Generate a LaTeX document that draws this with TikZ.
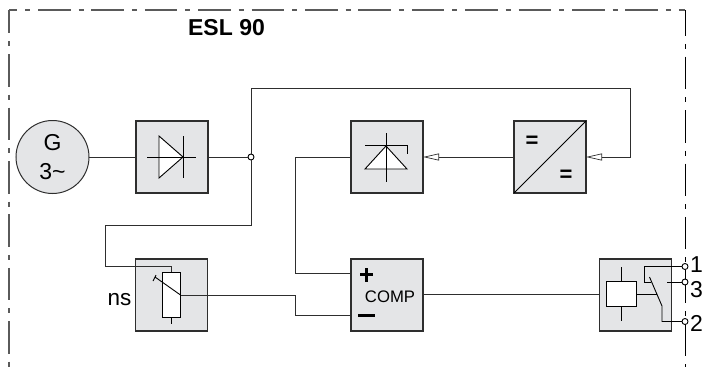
\documentclass[tikz,border=0pt]{standalone}
\usepackage{fontspec}
\setmainfont{Liberation Sans}
\usetikzlibrary{arrows.meta}
\definecolor{blockgray}{HTML}{E4E5E7}
\definecolor{linegray}{HTML}{2E2E2E}
\definecolor{framegray}{HTML}{5A5A5A}
\tikzset{
    blockbox/.style={draw=linegray,line width=1.1pt,fill=blockgray,minimum size=72pt,inner sep=0pt,outer sep=0pt},
    wire/.style={draw=linegray,line width=1pt},
    symbol/.style={draw=black,line width=0.9pt},
    terminal/.style={circle,draw=black,fill=white,line width=0.9pt,minimum size=6pt,inner sep=0pt,outer sep=0pt},
    openarrow/.style={-{Triangle[open,fill=white,length=16pt,width=7pt,line width=0.7pt]}},
    housing/.style={line width=1.1pt,dash pattern=on 32.5pt off 8pt on 5pt off 7.9pt}
}
\begin{document}
\begin{tikzpicture}[x=1pt,y=-1pt]
    \useasboundingbox (0,0) rectangle (703,367);

    % Housing
    \draw[housing,draw=framegray,dash phase=24.4pt] (9,10) -- (685,10);
    \draw[housing,draw=framegray,dash phase=9.2pt] (9,10) -- (9,367);
    \draw[housing,draw=black,line width=0.9pt,dash phase=6.7pt] (685,10) -- (685,367);
    \node[font=\bfseries,scale=2.3] (title) at (226.5,28) {\fontsize{10}{12}\selectfont ESL 90};

    % Generator
    \node[circle,draw=linegray,line width=1pt,fill=blockgray,minimum size=73pt,inner sep=0pt,outer sep=0pt,
          align=center,font=\fontsize{23}{28.5}\selectfont] (gen) at (52.5,157) {G\\3\textasciitilde};

    % Blocks
    \node[blockbox] (rectifier) at (172,157) {};
    \node[blockbox] (zener) at (387,157) {};
    \node[blockbox] (dcdc) at (550,157) {};
    \node[blockbox] (limiter) at (171.5,295) {};
    \node[blockbox] (comp) at (387,295) {};
    \node[blockbox] (relay) at (635.5,295) {};

    % Junction and terminals
    \node[terminal] (junction) at (251,157) {};
    \node[terminal] (term1) at (685,266.5) {};
    \node[terminal] (term3) at (685,282) {};
    \node[terminal] (term2) at (685,321.5) {};
    \coordinate (vdrin) at (171.5,272.5);
    \coordinate (vdrout) at (180.5,295);
    \coordinate (compplus) at (351,273.5);
    \coordinate (compminus) at (351,315.5);
    \coordinate (coilin) at (606,294);
    \coordinate (contact) at (662,321.5);

    % Connectors
    \draw[wire] (gen.east) -- (rectifier.west);
    \draw[wire] (rectifier.east) -- (junction);
    \draw[wire,openarrow] (junction) -- (251,88) -- (630,88) -- (630,157) -- (dcdc.east);
    \draw[wire] (junction) -- (251,225) -- (105,225) -- (105,266) -- (171.5,266) -- (vdrin);
    \draw[wire,openarrow] (dcdc.west) -- (zener.east);
    \draw[wire] (zener.west) -- (295,157) -- (295,273.5) -- (compplus);
    \draw[wire] (vdrout) -- (295,295) -- (295,315.5) -- (compminus);
    \draw[wire] (comp.east |- coilin) -- (relay.west |- coilin);

    % Rectifier diode
    \draw[symbol,fill=white] (159,136) -- (183,157) -- (159,178) -- cycle;
    \draw[symbol] (147,157) -- (196,157) (183,136) -- (183,178);

    % Zener diode
    \draw[symbol,fill=white] (386,146) -- (407,169) -- (365,169) -- cycle;
    \draw[symbol] (386,133) -- (386,182) (365,145) -- (407,145) -- (407,154);

    % DC/DC converter
    \draw[symbol] (dcdc.south west) -- (dcdc.north east);
    \node[font=\bfseries\fontsize{22}{24}\selectfont] (eqin) at (532,142) {=};
    \node[font=\bfseries\fontsize{22}{24}\selectfont] (eqout) at (566,176) {=};

    % Voltage dependent resistor
    \draw[symbol,fill=white] (162.5,272.5) rectangle (180.5,317);
    \draw[symbol] (171.5,317) -- (171.5,324);
    \draw[symbol] (180.5,295) -- (155,277) (153,281) -- (156,275);
    \node[left,inner sep=0pt,font=\fontsize{22.5}{26}\selectfont] (nslabel) at (131.5,300) {ns};

    % Comparator
    \draw[line width=2.3pt] (360,274.5) -- (373,274.5) (366.5,268) -- (366.5,281.5);
    \draw[line width=2.3pt] (358,315.5) -- (375,315.5);
    \node[font=\fontsize{16.7}{20}\selectfont] (complabel) at (390,297) {COMP};

    % Relay
    \draw[symbol] (621.5,267) -- (621.5,321);
    \draw[symbol,fill=white] (606,281.5) rectangle (636,306);
    \draw[symbol] (636,294) -- (657,294);
    \draw[symbol] (term1) -- (644.5,266.5) -- (644.5,282) -- (651,282);
    \draw[symbol] (term3) -- (667,282);
    \draw[symbol] (649.5,277) -- (662,306) -- (contact) -- (term2);

    % Terminal labels
    \node[font=\fontsize{23}{26}\selectfont] (label1) at (696.5,264.5) {1};
    \node[font=\fontsize{23}{26}\selectfont] (label3) at (696.5,289.5) {3};
    \node[font=\fontsize{23}{26}\selectfont] (label2) at (696.5,323.5) {2};
\end{tikzpicture}
\end{document}
